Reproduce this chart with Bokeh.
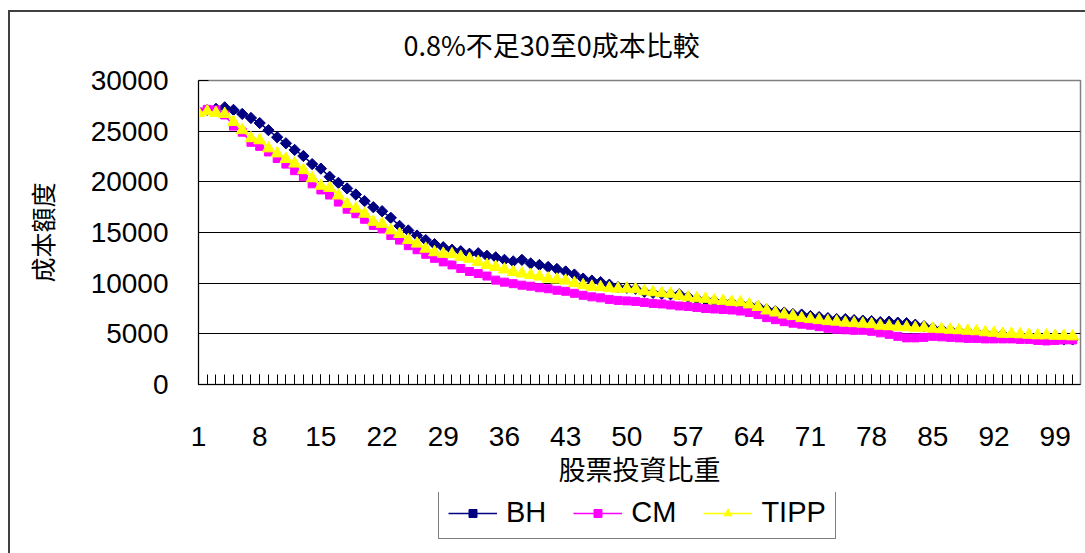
from bokeh.plotting import figure
from bokeh.models import Range1d, FixedTicker, Legend, LegendItem
from bokeh.layouts import column
from bokeh.embed import file_html
from bokeh.resources import INLINE
import math

# stock weight categories (1 .. 101)
weights = list(range(1, 102))

bh = [
    26900, 27100, 27200, 27350, 27100, 26700, 26300, 25800, 25100, 24400,
    23800, 23150, 22550, 21750, 21300, 20500, 19900, 19350, 18750, 18100,
    17500, 17100, 16450, 15650, 15200, 14700, 14250, 13850, 13550, 13300,
    13150, 12900, 12950, 12700, 12550, 12300, 12150, 12300, 11950, 11800,
    11600, 11400, 11150, 10850, 10450, 10250, 10100, 9850, 9600, 9550,
    9450, 9150, 9050, 8950, 8900, 8900, 8650, 8450, 8350, 8250,
    8150, 8100, 8000, 7850, 7700, 7400, 7250, 7100, 6950, 6900,
    6750, 6650, 6550, 6450, 6450, 6350, 6300, 6250, 6150, 6200,
    6100, 6050, 5900, 5750, 5550, 5450, 5350, 5250, 5200, 5150,
    5050, 4950, 4950, 4850, 4800, 4750, 4650, 4600, 4500, 4450,
    4450,
]

cm = [
    26900, 27150, 27100, 26600, 25500, 24900, 23900, 23500, 22950, 22300,
    21750, 21100, 20500, 19800, 19200, 18700, 18000, 17300, 16850, 16300,
    15700, 15350, 14700, 14250, 13700, 13300, 12850, 12450, 12100, 11800,
    11450, 11150, 10950, 10700, 10300, 10100, 9950, 9800, 9700, 9550,
    9450, 9300, 9200, 9000, 8800, 8650, 8550, 8400, 8300, 8250,
    8200, 8100, 8000, 7950, 7850, 7750, 7700, 7600, 7500, 7450,
    7400, 7350, 7250, 7100, 6900, 6600, 6400, 6200, 6050, 5950,
    5850, 5700, 5550, 5450, 5400, 5350, 5350, 5250, 5100, 4950,
    4750, 4600, 4600, 4650, 4750, 4700, 4650, 4600, 4550, 4550,
    4500, 4500, 4500, 4500, 4450, 4450, 4350, 4300, 4350, 4400,
    4400,
]

tipp = [
    26800, 26950, 26800, 26700, 25900, 25100, 24300, 24100, 23300, 22800,
    22250, 21800, 21150, 20350, 19600, 19400, 18650, 17800, 17350, 16850,
    16050, 15850, 15200, 14850, 14250, 13900, 13400, 13050, 12900, 12850,
    12600, 12400, 12100, 11800, 11600, 11350, 11100, 10950, 10800, 10650,
    10450, 10350, 10250, 10000, 9800, 9650, 9600, 9500, 9450, 9450,
    9400, 9200, 9100, 9000, 8950, 8750, 8600, 8500, 8450, 8300,
    8250, 8150, 8100, 7900, 7650, 7300, 7100, 6900, 6750, 6550,
    6450, 6350, 6250, 6200, 6100, 6050, 6000, 5950, 5800, 5750,
    5700, 5650, 5600, 5600, 5500, 5450, 5400, 5350, 5300, 5250,
    5150, 5100, 5000, 5000, 4950, 4900, 4850, 4850, 4800, 4800,
    4750,
]

x_labels = list(range(1, 100, 7))          # 1, 8, 15, ..., 99
y_ticks = [0, 5000, 10000, 15000, 20000, 25000, 30000]

series_names = ["BH", "CM", "TIPP"]
series_colors = ["#000080", "#FF00FF", "#FFFF00"]
series_values = [bh, cm, tipp]

NUM_FONT = "Liberation Sans"
CJK_FONT = "Noto Sans CJK TC"
EDGE = "#404040"


def add_series(fig):
    """Line + markers for each strategy; returns legend items."""
    items = []
    for name, color, vals in zip(series_names, series_colors, series_values):
        ln = fig.line(weights, vals, line_color=color, line_width=1.5)
        if name == "BH":
            mk = fig.scatter(weights, vals, marker="square", angle=math.pi / 4,
                             size=8, fill_color=color, line_color=color)
        elif name == "CM":
            mk = fig.scatter(weights, vals, marker="square", size=8,
                             fill_color=color, line_color=color)
        else:
            mk = fig.scatter(weights, vals, marker="triangle", size=12,
                             fill_color=color, line_color=color)
        items.append(LegendItem(label=name, renderers=[ln, mk]))
    return items


# ---------------- main chart ----------------
p = figure(
    width=1085, height=492,
    output_backend="svg", toolbar_location=None,
    x_range=Range1d(1, 101.9), y_range=Range1d(0, 30000),
    min_border_left=198, min_border_right=5,
    min_border_top=80, min_border_bottom=108,
    title="0.8%不足30至0成本比較",
)

# chart-area border (left and top edges) behind a transparent canvas
p.border_fill_color = None
p.styles = {
    "background": (
        f"linear-gradient({EDGE}, {EDGE}) 8px 10px / 1077px 2px no-repeat, "
        f"linear-gradient({EDGE}, {EDGE}) 8px 10px / 2px 482px no-repeat, "
        "white"
    )
}

p.title.text_font = CJK_FONT
p.title.text_font_size = "27px"
p.title.text_font_style = "normal"
p.title.text_color = "black"
p.title.align = "left"
p.title.offset = 205
p.title.standoff = 34

p.outline_line_color = "#808080"
p.outline_line_width = 1.5
p.background_fill_color = "white"

p.xgrid.grid_line_color = None
p.ygrid.ticker = FixedTicker(ticks=y_ticks)
p.ygrid.grid_line_color = "black"
p.ygrid.grid_line_width = 1

p.yaxis.ticker = FixedTicker(ticks=y_ticks)
p.yaxis.axis_line_color = "black"
p.yaxis.major_tick_in = 10
p.yaxis.major_tick_out = 0
p.yaxis.minor_tick_line_color = None
p.yaxis.major_label_text_font = NUM_FONT
p.yaxis.major_label_text_font_size = "28px"
p.yaxis.major_label_text_color = "black"
p.yaxis.major_label_standoff = 30
p.yaxis.axis_label = "成本額度"
p.yaxis.axis_label_text_font = CJK_FONT
p.yaxis.axis_label_text_font_size = "25px"
p.yaxis.axis_label_text_font_style = "normal"
p.yaxis.axis_label_text_color = "black"
p.yaxis.axis_label_standoff = 28

p.xaxis.ticker = FixedTicker(ticks=x_labels, minor_ticks=weights)
p.xaxis.axis_line_color = "black"
p.xaxis.major_tick_in = 10
p.xaxis.major_tick_out = 0
p.xaxis.minor_tick_in = 10
p.xaxis.minor_tick_out = 0
p.xaxis.minor_tick_line_color = "black"
p.xaxis.major_label_text_font = NUM_FONT
p.xaxis.major_label_text_font_size = "28px"
p.xaxis.major_label_text_color = "black"
p.xaxis.major_label_standoff = 42
p.xaxis.axis_label = "股票投資比重"
p.xaxis.axis_label_text_font = CJK_FONT
p.xaxis.axis_label_text_font_size = "27px"
p.xaxis.axis_label_text_font_style = "normal"
p.xaxis.axis_label_text_color = "black"
p.xaxis.axis_label_standoff = 0

add_series(p)

# ---------------- legend strip ----------------
q = figure(
    width=1085, height=61,
    output_backend="svg", toolbar_location=None,
    x_range=Range1d(-10, -9), y_range=Range1d(-10, -9),
    x_axis_type=None, y_axis_type=None,
    min_border=0, min_border_left=0, min_border_right=0,
    min_border_top=0, min_border_bottom=0,
)
q.outline_line_color = None
q.grid.grid_line_color = None
q.background_fill_color = None
q.border_fill_color = None
q.styles = {
    "background": (
        f"linear-gradient({EDGE}, {EDGE}) 8px 0px / 2px 61px no-repeat, "
        "white"
    )
}

legend = Legend(items=add_series(q), orientation="horizontal", location=(240, 14))
legend.label_text_font = NUM_FONT
legend.label_text_font_size = "29px"
legend.label_text_color = "black"
legend.glyph_width = 49
legend.glyph_height = 20
legend.label_standoff = 9
legend.spacing = 27
legend.padding = 9
legend.margin = 0
legend.border_line_color = "black"
legend.border_line_width = 1
legend.background_fill_color = "white"
legend.background_fill_alpha = 1
q.add_layout(legend)

layout = column(p, q, spacing=0)
open("out.html", "w").write(file_html(layout, INLINE))
